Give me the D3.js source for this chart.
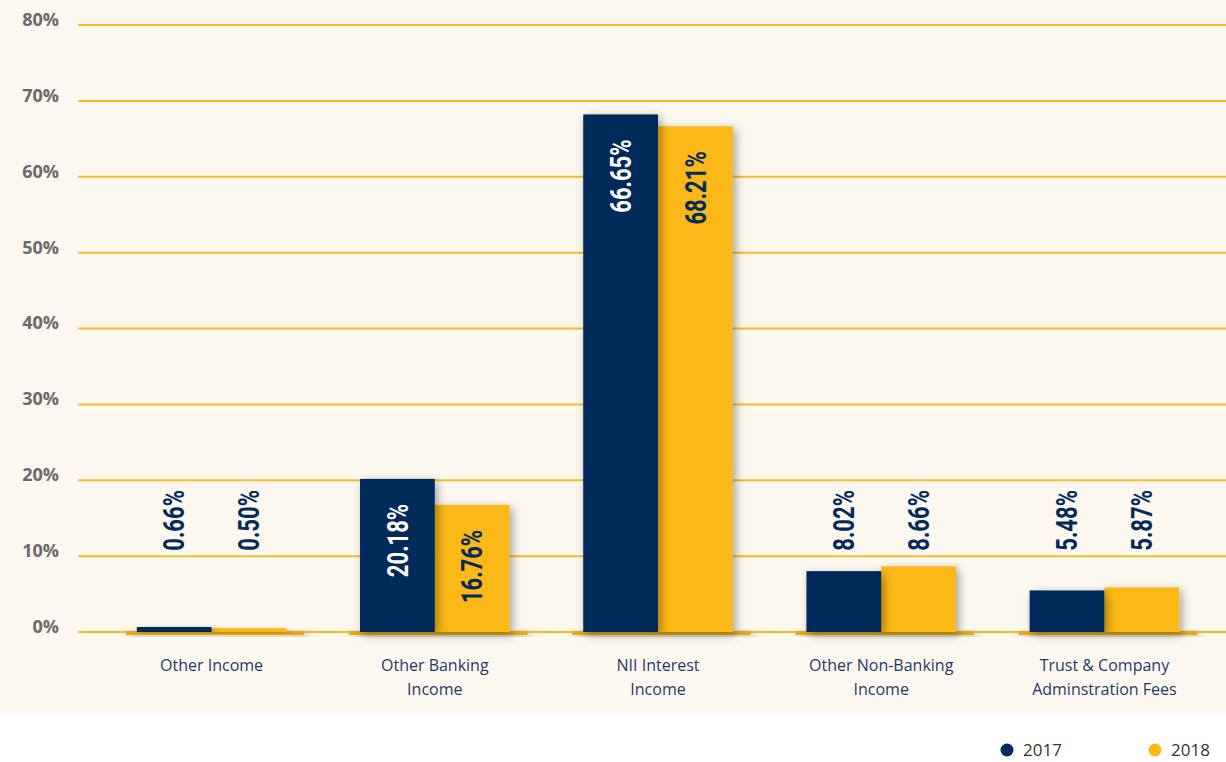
<!DOCTYPE html>
<html>
<head>
<meta charset="utf-8">
<script src="https://cdn.jsdelivr.net/npm/d3@7"></script>
<style>
  html, body { margin: 0; padding: 0; background: #fff; }
  svg { display: block; }
</style>
</head>
<body>
<svg width="1226" height="762"></svg>
<script>
// chart data
const categories = [
  ["Other Income"],
  ["Other Banking", "Income"],
  ["NII Interest", "Income"],
  ["Other Non-Banking", "Income"],
  ["Trust & Company", "Adminstration Fees"]
];
const series = ["2017", "2018"];
// bar heights as drawn in the picture
const values2017 = [0.66, 20.18, 68.21, 8.02, 5.48];
const values2018 = [0.50, 16.76, 66.65, 8.66, 5.87];
// value labels as printed on the picture
const labels2017 = ["0.66%", "20.18%", "66.65%", "8.02%", "5.48%"];
const labels2018 = ["0.50%", "16.76%", "68.21%", "8.66%", "5.87%"];
const yTicks = [0, 10, 20, 30, 40, 50, 60, 70, 80];

const navy = "#022a5a";
const gold = "#fbb816";
const width = 1226, height = 762;

const svg = d3.select("svg");

// shadow filter
const defs = svg.append("defs");
const f = defs.append("filter").attr("id", "shadow")
    .attr("x", "-30%").attr("y", "-30%").attr("width", "160%").attr("height", "160%");
f.append("feDropShadow").attr("dx", 3).attr("dy", 3).attr("stdDeviation", 5)
    .attr("flood-color", "#000").attr("flood-opacity", 0.35);

// cream plot background
svg.append("rect").attr("x", 0).attr("y", 0).attr("width", width).attr("height", 713)
    .attr("fill", "#fcf8f0");

const y = d3.scaleLinear().domain([0, 80]).range([632, 25]);
const x = d3.scaleBand().domain(d3.range(categories.length)).range([100, 1216]).paddingInner(0.33).paddingOuter(0.165);
const xs = d3.scaleBand().domain(series).range([0, x.bandwidth()]);

// gridlines + tick labels
const grid = svg.append("g");
grid.selectAll("line").data(yTicks).join("line")
    .attr("x1", 78).attr("x2", width)
    .attr("y1", d => y(d)).attr("y2", d => y(d))
    .attr("stroke", "#f8bc26").attr("stroke-width", 2);
grid.selectAll("text").data(yTicks).join("text")
    .attr("x", 59).attr("y", d => y(d))
    .attr("dy", "0.05em")
    .attr("text-anchor", "end")
    .attr("font-family", "'Open Sans', sans-serif")
    .attr("font-weight", 700)
    .attr("font-size", 18)
    .attr("fill", "#6a6a6a")
    .text(d => d + "%");

// baseline strips under each group
svg.append("g").selectAll("rect").data(categories).join("rect")
    .attr("x", (d, i) => x(i) - 11)
    .attr("y", y(0) - 1)
    .attr("width", x.bandwidth() + 29)
    .attr("height", 4)
    .attr("fill", "#e3a90c")
    .attr("filter", "url(#shadow)");

const rows = categories.map((c, i) => ({
  i,
  bars: [
    { s: "2017", v: values2017[i], label: labels2017[i], color: navy, text: "#fff" },
    { s: "2018", v: values2018[i], label: labels2018[i], color: gold, text: navy }
  ]
}));

// bars: 2018 first so the 2017 shadow falls on it
const groups = svg.append("g").selectAll("g").data(rows).join("g")
    .attr("transform", d => `translate(${x(d.i)},0)`);

groups.selectAll("rect").data(d => d.bars.slice().reverse()).join("rect")
    .attr("x", d => xs(d.s))
    .attr("y", d => y(d.v))
    .attr("width", xs.bandwidth())
    .attr("height", d => y(0) - y(d.v))
    .attr("fill", d => d.color)
    .attr("filter", "url(#shadow)");

// rotated value labels
const insideMin = 12;
groups.selectAll("text").data(d => d.bars).join("text")
    .attr("transform", d => {
      const inside = d.v >= insideMin;
      const top = (inside ? y(d.v) : y(22)) + 25;
      const cx = xs(d.s) + xs.bandwidth() / 2;
      return `translate(${cx},${top}) rotate(-90) scale(0.76,1)`;
    })
    .attr("text-anchor", "end")
    .attr("dominant-baseline", "central")
    .attr("font-family", "Roboto, sans-serif")
    .attr("font-weight", 700)
    .attr("font-size", 29)
    .attr("fill", d => d.v >= insideMin ? d.text : navy)
    .text(d => d.label);

// category labels
const cat = svg.append("g").selectAll("text").data(categories).join("text")
    .attr("x", (d, i) => x(i) + x.bandwidth() / 2)
    .attr("y", 671)
    .attr("text-anchor", "middle")
    .attr("font-family", "'Open Sans', sans-serif")
    .attr("font-size", 16)
    .attr("fill", "#1f3a66");
cat.selectAll("tspan").data(d => d).join("tspan")
    .attr("x", function () { return d3.select(this.parentNode).attr("x"); })
    .attr("dy", (d, j) => j === 0 ? 0 : 24)
    .text(d => d);

// legend
const legend = svg.append("g").selectAll("g").data(series).join("g")
    .attr("transform", (d, i) => `translate(${1007 + i * 148},750)`);
legend.append("circle").attr("r", 6.5).attr("fill", (d, i) => i === 0 ? navy : gold);
legend.append("text").attr("x", 16).attr("dy", "0.35em")
    .attr("font-family", "'Open Sans', sans-serif")
    .attr("font-size", 17)
    .attr("fill", "#333")
    .text(d => d);
</script>
</body>
</html>
